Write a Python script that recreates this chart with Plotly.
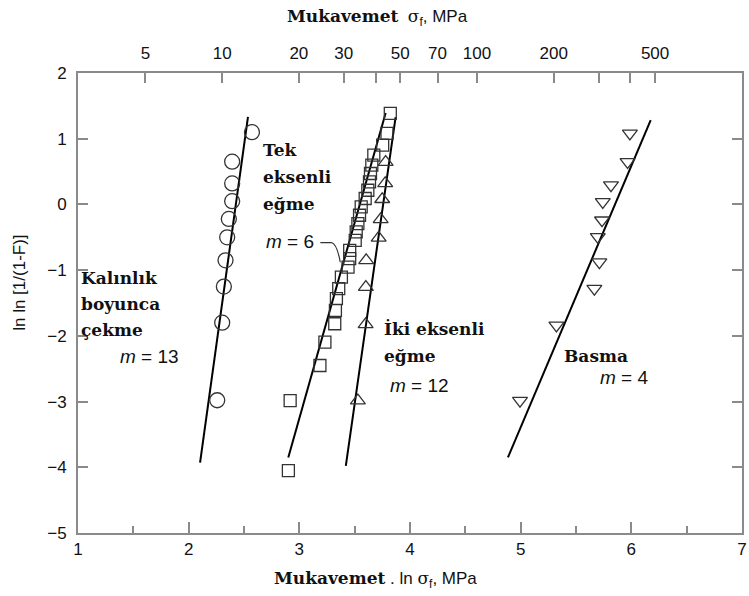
import numpy as np
import plotly.graph_objects as go

# ---- data (ln sigma_f, ln ln [1/(1-F)]) ----
thru_x = [2.572, 2.393, 2.393, 2.393, 2.363, 2.348, 2.333, 2.318, 2.303, 2.258]
thru_y = [1.10, 0.65, 0.32, 0.05, -0.22, -0.50, -0.85, -1.25, -1.80, -2.98]
thru_fit_x = [2.103, 2.536]
thru_fit_y = [-3.93, 1.334]

uni_x = [3.822, 3.792, 3.753, 3.673, 3.655, 3.643, 3.634, 3.619, 3.595, 3.559,
         3.544, 3.529, 3.514, 3.505, 3.455, 3.455, 3.44, 3.38, 3.356, 3.335,
         3.326, 3.32, 3.231, 3.186, 2.917, 2.901]
uni_y = [1.386, 1.081, 0.902, 0.75, 0.598, 0.471, 0.343, 0.216, 0.09, -0.038,
         -0.165, -0.291, -0.419, -0.546, -0.70, -0.825, -0.953, -1.105, -1.282, -1.434,
         -1.613, -1.816, -2.096, -2.451, -2.985, -4.052]
uni_fit_x = [2.90, 3.78]
uni_fit_y = [-3.85, 1.39]

bi_x = [3.78, 3.776, 3.749, 3.735, 3.717, 3.604, 3.601, 3.599, 3.529]
bi_y = [0.643, 0.32, 0.079, -0.226, -0.508, -0.85, -1.258, -1.826, -2.985]
bi_fit_x = [3.42, 3.87]
bi_fit_y = [-3.98, 1.33]

comp_x = [5.987, 5.966, 5.816, 5.742, 5.735, 5.697, 5.711, 5.666, 5.323, 4.994]
comp_y = [1.081, 0.648, 0.293, 0.038, -0.241, -0.495, -0.877, -1.282, -1.841, -2.985]
comp_fit_x = [4.885, 6.175]
comp_fit_y = [-3.85, 1.284]

top_tick_vals = [5, 10, 20, 30, 40, 50, 70, 100, 200, 300, 400, 500]
top_tick_text = ["5", "10", "20", "30", "", "50", "70", "100", "200", "", "", "500"]

SERIF = "DejaVu Serif"
SANS = "Liberation Sans"
FRAME = "#8a8a8a"
INK = "#111"

fig = go.Figure()

def add_series(xs, ys, symbol, size):
    fig.add_trace(go.Scatter(x=xs, y=ys, mode="markers",
                             marker=dict(symbol=symbol, size=size, color="#333",
                                         line=dict(color="#333", width=1.3)),
                             showlegend=False, hoverinfo="skip"))

def add_fit(xs, ys):
    fig.add_trace(go.Scatter(x=xs, y=ys, mode="lines",
                             line=dict(color="black", width=2),
                             showlegend=False, hoverinfo="skip"))

add_fit(thru_fit_x, thru_fit_y)
add_fit(uni_fit_x, uni_fit_y)
add_fit(bi_fit_x, bi_fit_y)
add_fit(comp_fit_x, comp_fit_y)
add_series(thru_x, thru_y, "circle-open", 15)
add_series(uni_x, uni_y, "square-open", 12)
add_series(bi_x, bi_y, "triangle-up-open", 13)
add_series(comp_x, comp_y, "triangle-down-open", 13)

# invisible trace on top axis so it is drawn
fig.add_trace(go.Scatter(x=[1, 7], y=[-5, -5], xaxis="x2", mode="markers",
                         marker=dict(opacity=0), showlegend=False, hoverinfo="skip"))

fig.update_layout(
    width=749, height=596,
    margin=dict(l=78, r=2, t=73, b=63),
    paper_bgcolor="white", plot_bgcolor="white",
    font=dict(family=SANS, size=17, color=INK),
    xaxis=dict(range=[1, 7], dtick=1, tick0=1, ticks="inside", ticklen=11, tickwidth=1.5,
               tickcolor=FRAME, showline=True, linecolor=FRAME, linewidth=2,
               showgrid=False, zeroline=False, ticklabeloverflow="allow",
               minor=dict(dtick=0.5, ticks="inside", ticklen=7, tickcolor=FRAME, tickwidth=1.5),
               tickfont=dict(family=SANS, size=17, color=INK)),
    xaxis2=dict(range=[1, 7], overlaying="x", side="top",
                tickvals=list(np.log(top_tick_vals)), ticktext=top_tick_text,
                ticks="inside", ticklen=10, tickwidth=1.5, tickcolor=FRAME,
                showline=True, linecolor=FRAME, linewidth=2, showgrid=False, zeroline=False,
                ticklabelstandoff=5,
                tickfont=dict(family=SANS, size=17, color=INK)),
    yaxis=dict(range=[-5, 2], dtick=1, ticks="inside", ticklen=10, tickwidth=1.5,
               tickcolor=FRAME, showline=True, linecolor=FRAME, linewidth=2,
               mirror="ticks", showgrid=False, zeroline=False, ticklabelstandoff=6,
               tickfont=dict(family=SANS, size=17, color=INK)),
)

def lbl(x, y, text, font, size):
    fig.add_annotation(x=x, y=y, xref="x", yref="y", text=text, showarrow=False,
                       xanchor="left", yanchor="middle", align="left",
                       font=dict(family=font, size=size, color=INK))

def block(x, ytop, lines, gap_px=27):
    lh = gap_px / 65.6
    for i, t in enumerate(lines):
        lbl(x, ytop - i * lh, "<b>" + t + "</b>", SERIF, 17)

block(2.65, 0.83, ["Tek", "eksenli", "eğme"])
block(1.01, -1.125, ["Kalınlık", "boyunca", "çekme"], 26)
block(3.75, -1.89, ["İki eksenli", "eğme"])
block(5.37, -2.30, ["Basma"])

lbl(2.68, -0.56, "<i>m</i> = 6", SANS, 19)
lbl(1.36, -2.31, "<i>m</i> = 13", SANS, 19)
lbl(3.80, -2.76, "<i>m</i> = 12", SANS, 19)
lbl(5.70, -2.63, "<i>m</i> = 4", SANS, 19)

# leader line from "m = 6"
fig.add_shape(type="path", xref="x", yref="y",
              path="M 3.19,-0.58 L 3.29,-0.58 Q 3.34,-0.60 3.37,-0.88",
              line=dict(color="#333", width=1.2))

# axis titles
fig.add_annotation(xref="paper", yref="paper", x=0.451, y=1.12, showarrow=False,
                   xanchor="center", yanchor="middle",
                   text="<span style='font-family:DejaVu Serif'><b>Mukavemet</b></span>  "
                        "<span style='font-family:DejaVu Serif'>σ</span><sub>f</sub>, MPa",
                   font=dict(family=SANS, size=17, color=INK))
fig.add_annotation(xref="paper", yref="paper", x=0.448, y=-0.102, showarrow=False,
                   xanchor="center", yanchor="middle",
                   text="<span style='font-family:DejaVu Serif'><b>Mukavemet</b></span> . ln "
                        "<span style='font-family:DejaVu Serif'>σ</span><sub>f</sub>, MPa",
                   font=dict(family=SANS, size=17, color=INK))
fig.add_annotation(xref="paper", yref="paper", x=-0.088, y=0.543, showarrow=False,
                   xanchor="center", yanchor="middle",
                   text="ln ln [1/(1-F)]", textangle=-90,
                   font=dict(family=SANS, size=17, color=INK))

fig.write_html("out.html", config={"displayModeBar": False},
               post_script="document.body.style.margin='0';document.body.style.overflow='hidden';")
